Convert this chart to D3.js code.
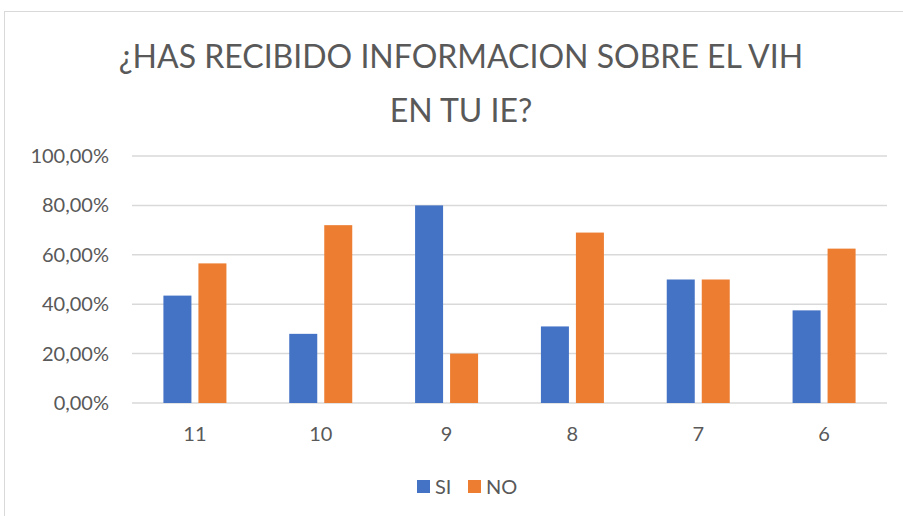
<!DOCTYPE html>
<html>
<head>
<meta charset="utf-8">
<script src="https://cdn.jsdelivr.net/npm/d3@7"></script>
<style>
  body { margin: 0; background: #fff; }
  text { font-family: Lato, "Open Sans", sans-serif; fill: #595959; }
</style>
</head>
<body>
<div id="chart"></div>
<script>
// datos
const grados = ['11', '10', '9', '8', '7', '6'];
const serieSI = [0.4348, 0.28, 0.80, 0.31, 0.50, 0.375];
const serieNO = [0.5652, 0.72, 0.20, 0.69, 0.50, 0.625];
const series = ['SI', 'NO'];
const colores = ['#4472C4', '#ED7D31'];
const yTicks = [0, 0.2, 0.4, 0.6, 0.8, 1.0];

const width = 903, height = 516;
const margin = { top: 156, right: 16, bottom: 113, left: 132 };

const svg = d3.select('#chart').append('svg')
  .attr('width', width)
  .attr('height', height);

// marco del gráfico
svg.append('rect')
  .attr('x', 4.5).attr('y', 11.5)
  .attr('width', 920).attr('height', 540)
  .attr('fill', 'none')
  .attr('stroke', '#d9d9d9');

// título
const titulo = svg.append('text')
  .attr('text-anchor', 'middle')
  .style('font-size', '32px');
titulo.append('tspan').attr('x', 461).attr('y', 68).text('¿HAS RECIBIDO INFORMACION SOBRE EL VIH');
titulo.append('tspan').attr('x', 461).attr('y', 122).text('EN TU IE?');

const x = d3.scaleBand()
  .domain(grados)
  .range([margin.left, width - margin.right]);

const y = d3.scaleLinear()
  .domain([0, 1])
  .range([height - margin.bottom, margin.top]);

// líneas de cuadrícula
svg.append('g')
  .selectAll('line')
  .data(yTicks)
  .enter()
  .append('line')
  .attr('x1', margin.left)
  .attr('x2', width - margin.right)
  .attr('y1', d => y(d))
  .attr('y2', d => y(d))
  .attr('stroke', '#d9d9d9')
  .attr('stroke-width', 1.5);

// eje Y
const fmt = d => d3.format('.2f')(d * 100).replace('.', ',') + '%';
const ejeY = svg.append('g')
  .attr('transform', `translate(${margin.left - 23},0)`)
  .call(d3.axisLeft(y).tickValues(yTicks).tickFormat(fmt).tickSize(0));
ejeY.select('.domain').remove();
ejeY.selectAll('text')
  .attr('x', 0)
  .style('font-size', '20px');

// eje X
const ejeX = svg.append('g')
  .attr('transform', `translate(0,${height - margin.bottom})`)
  .call(d3.axisBottom(x).tickSize(0));
ejeX.select('.domain').remove();
ejeX.selectAll('text')
  .attr('y', 38)
  .attr('dy', 0)
  .style('font-size', '20px');

// barras
const barW = 28, gap = 7;
const datos = grados.map((g, i) => ({ g: g, valores: [serieSI[i], serieNO[i]] }));

const grupos = svg.append('g')
  .selectAll('g')
  .data(datos)
  .enter()
  .append('g')
  .attr('transform', d => `translate(${x(d.g) + x.bandwidth() / 2},0)`);

grupos.selectAll('rect')
  .data(d => d.valores)
  .enter()
  .append('rect')
  .attr('x', (d, i) => i === 0 ? -barW - gap / 2 : gap / 2)
  .attr('width', barW)
  .attr('y', d => y(d))
  .attr('height', d => y(0) - y(d))
  .attr('fill', (d, i) => colores[i]);

// leyenda
const leyenda = svg.append('g')
  .attr('transform', 'translate(417,480)');
const item = leyenda.selectAll('g')
  .data(series)
  .enter()
  .append('g')
  .attr('transform', (d, i) => `translate(${i * 51},0)`);
item.append('rect')
  .attr('width', 13).attr('height', 13)
  .attr('fill', (d, i) => colores[i]);
item.append('text')
  .attr('x', 18).attr('y', 14)
  .style('font-size', '20px')
  .text(d => d);
</script>
</body>
</html>
